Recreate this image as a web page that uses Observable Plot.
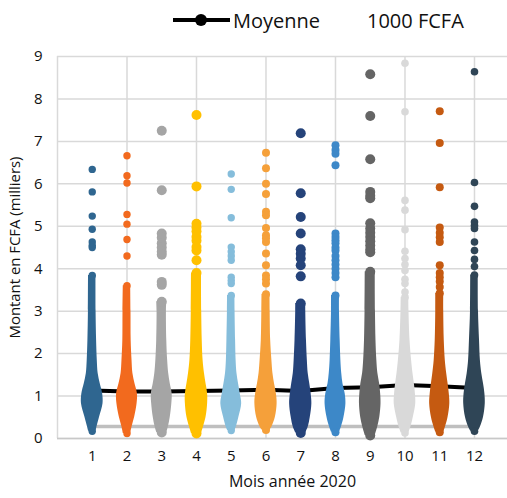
<!DOCTYPE html>
<html><head><meta charset="utf-8">
<script src="https://cdn.jsdelivr.net/npm/d3@7"></script>
<script src="https://cdn.jsdelivr.net/npm/@observablehq/plot@0.6"></script>
<style>
body{margin:0;background:#fff;font-family:"Open Sans",sans-serif;}
#legend{display:block;}
#chart svg{display:block;}
</style></head><body>
<svg id="legend" width="507" height="40"></svg>
<div id="chart"></div>
<script>
// ---- data ----
const months = [1,2,3,4,5,6,7,8,9,10,11,12];
const monthColors = ["#2F6690","#F26A1E","#A5A5A5","#FFC000","#85BDDB","#F5A03A","#25437A","#3D88C8","#656565","#D9D9D9","#C55A11","#2F4556"];
const meanValues = [1.13,1.11,1.11,1.12,1.13,1.15,1.12,1.19,1.21,1.26,1.23,1.19];
const lowLine = [0.28,0.28,0.28,0.28,0.28,0.28,0.28,0.28,0.28,0.28,0.28,0.28];
// density profile of the dense part of each strip (half spread in months)
const levels = [0.27,0.5,0.82,1.05,1.29,1.53,1.84,2.31,3.0];
const bottoms = [0.17,0.12,0.14,0.12,0.19,0.2,0.13,0.15,0.07,0.13,0.15,0.17];
const columnTops = [3.84,3.6,3.22,3.9,3.37,3.4,3.18,3.37,3.93,3.33,3.42,3.85];
const spreads = [
  [0.135,0.21,0.31,0.30,0.23,0.17,0.145,0.125,0.11],
  [0.145,0.22,0.29,0.30,0.23,0.17,0.145,0.12,0.115],
  [0.19,0.245,0.29,0.30,0.245,0.20,0.17,0.145,0.135],
  [0.20,0.275,0.32,0.32,0.275,0.23,0.19,0.165,0.15],
  [0.145,0.22,0.30,0.26,0.21,0.165,0.14,0.125,0.11],
  [0.17,0.27,0.32,0.30,0.245,0.20,0.17,0.135,0.12],
  [0.215,0.275,0.32,0.30,0.26,0.215,0.19,0.165,0.145],
  [0.17,0.245,0.30,0.28,0.215,0.18,0.155,0.135,0.115],
  [0.215,0.275,0.31,0.30,0.27,0.22,0.19,0.165,0.15],
  [0.17,0.24,0.31,0.30,0.27,0.23,0.19,0.145,0.115],
  [0.165,0.24,0.29,0.275,0.24,0.20,0.16,0.13,0.115],
  [0.17,0.26,0.31,0.30,0.26,0.21,0.17,0.145,0.115]
];
// individual points above the dense part
const outliers = [
  [6.34,5.81,5.24,4.93,4.63,4.55,4.5],
  [6.66,6.19,6.02,5.28,5.05,4.69,4.30],
  [7.25,5.85,4.83,4.73,4.6,4.5,4.4,4.33,3.69,3.62],
  [7.62,5.94,5.06,4.97,4.88,4.75,4.66,4.51,4.43,4.2],
  [6.23,5.87,5.2,4.51,4.4,4.3,4.2,3.8,3.72,3.65],
  [6.73,6.37,6.0,5.76,5.34,5.26,4.96,4.79,4.72,4.63,4.36,4.08,3.84,3.75,3.65],
  [7.19,5.78,5.22,4.83,4.46,4.35,4.24,4.08,3.82],
  [6.91,6.8,6.71,6.44,4.83,4.75,4.67,4.6,4.5,4.43,4.3,4.2,4.1,4.0,3.9,3.8],
  [8.58,7.6,6.58,5.81,5.72,5.66,5.07,4.95,4.85,4.75,4.65,4.55,4.45,4.39],
  [8.84,7.7,5.61,5.38,4.92,4.41,4.24,4.1,3.96,3.75,3.65,3.45],
  [7.71,6.96,5.92,4.97,4.85,4.74,4.63,4.08,3.9,3.8,3.7,3.57],
  [8.64,6.03,5.47,5.1,5.02,4.95,4.63,4.43,4.22,4.05]
];
const yTicks = [0,1,2,3,4,5,6,7,8,9];
const xGrid = [0,2,4,6,8,10,12];
const yTitle = "Montant en FCFA (milliers)";
const xTitle = "Mois année 2020";
const legendLabels = ["Moyenne","1000 FCFA"];

// ---- styles ----
const dotRadius = [3.7,3.7,5,5,3.7,4,5,4,5,3.8,4,3.8];
const W = 507, H = 458, mL = 57, mR = 0, mT = 16, mB = 60;
const xMax = 12.95;
const pxPerMonth = (W - mL - mR) / xMax;
const font = '"Open Sans", sans-serif';

const meanRows = months.map((m,i)=>({month:m, v:meanValues[i]}));
const lowRows = months.map((m,i)=>({month:m, v:lowLine[i]}));

const bodyRows = [];
const dotRows = [];
months.forEach((m,i)=>{
  const cap = dotRadius[i] / pxPerMonth;
  bodyRows.push({month:m, v:bottoms[i], w:cap});
  levels.forEach((v,j)=>bodyRows.push({month:m, v, w:spreads[i][j]}));
  bodyRows.push({month:m, v:columnTops[i], w:cap});
  dotRows.push({month:m, v:bottoms[i]});
  dotRows.push({month:m, v:columnTops[i]});
  outliers[i].forEach(v=>dotRows.push({month:m, v}));
});

const marks = [
  Plot.gridY(yTicks, {stroke:"#D9D9D9", strokeOpacity:1, strokeWidth:1.5}),
  Plot.gridX(xGrid, {stroke:"#D9D9D9", strokeOpacity:1, strokeWidth:1.5}),
  Plot.ruleY([0], {stroke:"#C8C8C8", strokeWidth:1.5}),
  Plot.line(lowRows, {x:"month", y:"v", stroke:"#BFBFBF", strokeWidth:3.5}),
  Plot.line(meanRows, {x:"month", y:"v", stroke:"#000", strokeWidth:4}),
  Plot.areaX(bodyRows, {y:"v", x1:d=>d.month-d.w, x2:d=>d.month+d.w, z:"month", fill:d=>monthColors[d.month-1], curve:"catmull-rom"})
];
months.forEach((m,i)=>{
  marks.push(Plot.dot(dotRows.filter(d=>d.month===m), {x:"month", y:"v", r:dotRadius[i], fill:monthColors[i], stroke:"none"}));
});
marks.push(
  Plot.axisY(yTicks, {tickSize:0, tickPadding:15, fontSize:15, label:null, fill:"#111"}),
  Plot.axisX(months, {tickSize:0, tickPadding:12, fontSize:15, label:null, fill:"#111"}),
  Plot.text([yTitle], {frameAnchor:"left", textAnchor:"middle", dx:-42, dy:0, rotate:-90, fontSize:14.9, fill:"#111"}),
  Plot.text([xTitle], {frameAnchor:"bottom", textAnchor:"middle", dy:48, dx:10, fontSize:16, fill:"#111"})
);

const chart = Plot.plot({
  width:W, height:H, marginLeft:mL, marginRight:mR, marginTop:mT, marginBottom:mB,
  style:{fontFamily:font, background:"#fff", overflow:"visible"},
  x:{domain:[0,xMax], axis:null},
  y:{domain:[0,9], axis:null},
  color:{type:"identity"},
  marks
});
document.getElementById("chart").appendChild(chart);

// legend
const lg = d3.select("#legend");
lg.append("line").attr("x1",173).attr("x2",230).attr("y1",20).attr("y2",20).attr("stroke","#000").attr("stroke-width",4);
lg.append("circle").attr("cx",201).attr("cy",20).attr("r",6).attr("fill","#000");
lg.append("text").attr("x",233).attr("y",28).attr("font-family",font).attr("font-size",20).attr("fill","#111").text(legendLabels[0]);
lg.append("text").attr("x",367).attr("y",28).attr("font-family",font).attr("font-size",20).attr("fill","#111").text(legendLabels[1]);
</script>
</body></html>
